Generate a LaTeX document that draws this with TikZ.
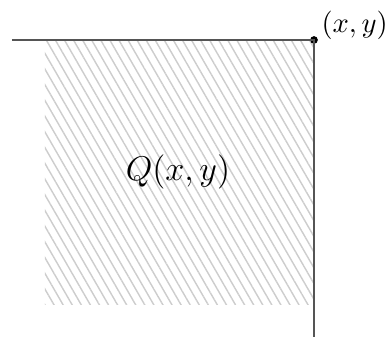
\documentclass[tikz,border=0pt]{standalone}
\usepackage{amsmath}
\usetikzlibrary{patterns.meta}
\definecolor{axisgray}{RGB}{85,85,85}
\definecolor{hatchgray}{RGB}{205,205,205}
\tikzset{
  edge/.style={axisgray, line width=0.55pt},
  hatched/.style={pattern={Lines[angle=-60, distance=2.75pt, line width=0.5pt]},
                  pattern color=hatchgray},
  dot/.style={circle, fill=black, inner sep=0pt, minimum size=2.7pt}
}

\begin{document}
\begin{tikzpicture}[x=0.35pt,y=-0.35pt]
\useasboundingbox (0,0) rectangle (387,337);

% ── Hatched quadrant ─────────────────────────────────────────────────────────
\fill[hatched] (45,40) rectangle (313,305);

% ── Boundary lines ───────────────────────────────────────────────────────────
\coordinate (west) at (12,40);
\coordinate (south) at (314,337);
\node[dot] (pt) at (314,40) {};
\draw[edge] (west) -- (pt.center) -- (south);

% ── Labels ───────────────────────────────────────────────────────────────────
\node[anchor=west, inner sep=0pt] (ptlbl) at (321,25) {$(x,y)$};
\node[font=\large] (qlbl) at (178,172) {$Q(x,y)$};

\end{tikzpicture}
\end{document}
